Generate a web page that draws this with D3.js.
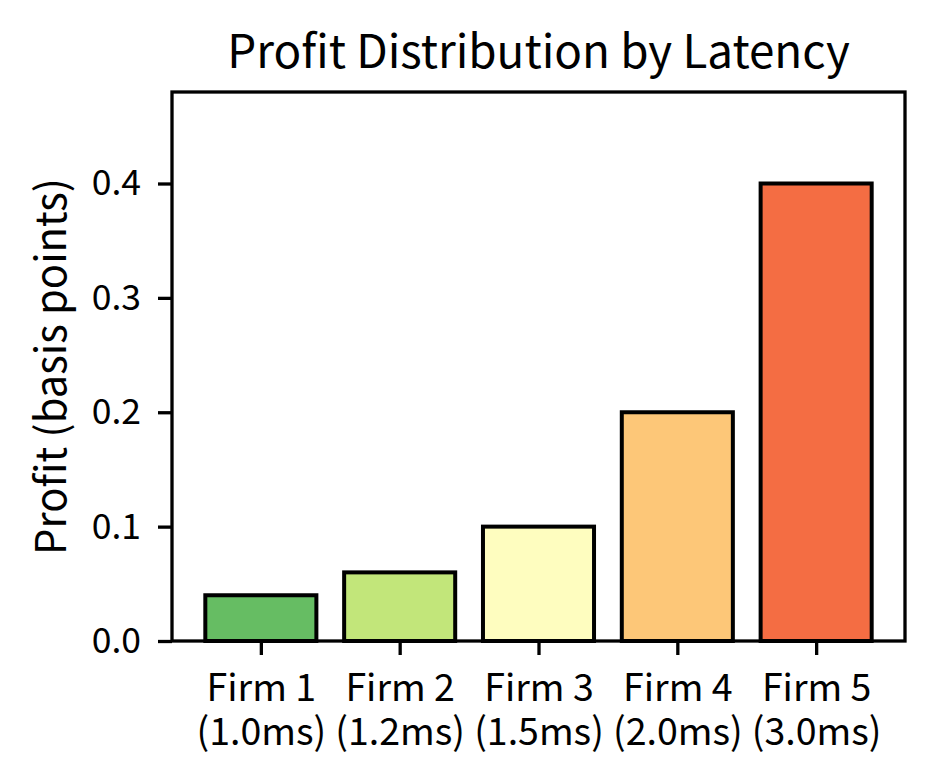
<!DOCTYPE html>
<html>
<head>
<meta charset="utf-8">
<script src="https://cdn.jsdelivr.net/npm/d3@7"></script>
<style>
  body { margin: 0; background: #fff; }
  text { font-family: "Noto Sans CJK SC", "Noto Sans", sans-serif; fill: #000; }
</style>
</head>
<body>
<div id="chart"></div>
<script>
// data
var firms = ["Firm 1", "Firm 2", "Firm 3", "Firm 4", "Firm 5"];
var latencies = ["(1.0ms)", "(1.2ms)", "(1.5ms)", "(2.0ms)", "(3.0ms)"];
var profits = [0.04, 0.06, 0.10, 0.20, 0.40];
var barColors = ["#66bd63", "#c2e67a", "#fefdbf", "#fdc778", "#f46d43"];
var yTicks = [0.0, 0.1, 0.2, 0.3, 0.4];

var W = 934, H = 784;
var plot = { left: 172, right: 905, top: 92, bottom: 641 };

var svg = d3.select("#chart").append("svg").attr("width", W).attr("height", H);

// matplotlib style limits: bars at 0..4, width 0.8, 5% margin
var x = d3.scaleLinear().domain([-0.64, 4.64]).range([plot.left, plot.right]);
var y = d3.scaleLinear().domain([0, 0.48]).range([plot.bottom, plot.top]);

svg.selectAll("rect.bar")
  .data(profits)
  .enter().append("rect")
  .attr("class", "bar")
  .attr("x", function(d, i) { return x(i - 0.4); })
  .attr("width", function() { return x(0.4) - x(-0.4); })
  .attr("y", function(d) { return y(d); })
  .attr("height", function(d) { return y(0) - y(d); })
  .attr("fill", function(d, i) { return barColors[i]; })
  .attr("stroke", "#000")
  .attr("stroke-width", 4);

// y axis
var yAxis = d3.axisLeft(y).tickValues(yTicks).tickFormat(d3.format(".1f")).tickSize(14).tickPadding(17);
var gy = svg.append("g").attr("transform", "translate(" + plot.left + ",0)").call(yAxis);
gy.select(".domain").remove();
gy.selectAll(".tick line").attr("stroke", "#000").attr("stroke-width", 3.3);
gy.selectAll(".tick text").attr("font-size", 35.5).attr("font-family", "Noto Sans CJK SC");

// x axis, two-line labels as separate texts
var xAxis = d3.axisBottom(x).tickValues(d3.range(firms.length)).tickFormat("").tickSize(14);
var gx = svg.append("g").attr("transform", "translate(0," + plot.bottom + ")").call(xAxis);
gx.select(".domain").remove();
gx.selectAll(".tick line").attr("stroke", "#000").attr("stroke-width", 3.3);
gx.selectAll(".tick").each(function(d, i) {
  var tick = d3.select(this);
  tick.append("text")
    .attr("text-anchor", "middle").attr("font-size", 37.5)
    .attr("font-family", "Noto Sans CJK SC")
    .attr("y", 60).text(firms[i]);
  tick.append("text")
    .attr("text-anchor", "middle").attr("font-size", 37.5)
    .attr("font-family", "Noto Sans CJK SC")
    .attr("y", 104).text(latencies[i]);
});

// frame
svg.append("rect")
  .attr("x", plot.left).attr("y", plot.top)
  .attr("width", plot.right - plot.left).attr("height", plot.bottom - plot.top)
  .attr("fill", "none").attr("stroke", "#000").attr("stroke-width", 3.3);

// title and label
svg.append("text")
  .attr("x", (plot.left + plot.right) / 2).attr("y", 68)
  .attr("text-anchor", "middle")
  .attr("font-size", 45.8)
  .text("Profit Distribution by Latency");

svg.append("text")
  .attr("transform", "translate(66," + (plot.top + plot.bottom) / 2 + ") rotate(-90)")
  .attr("text-anchor", "middle")
  .attr("font-size", 41.7)
  .text("Profit (basis points)");
</script>
</body>
</html>
